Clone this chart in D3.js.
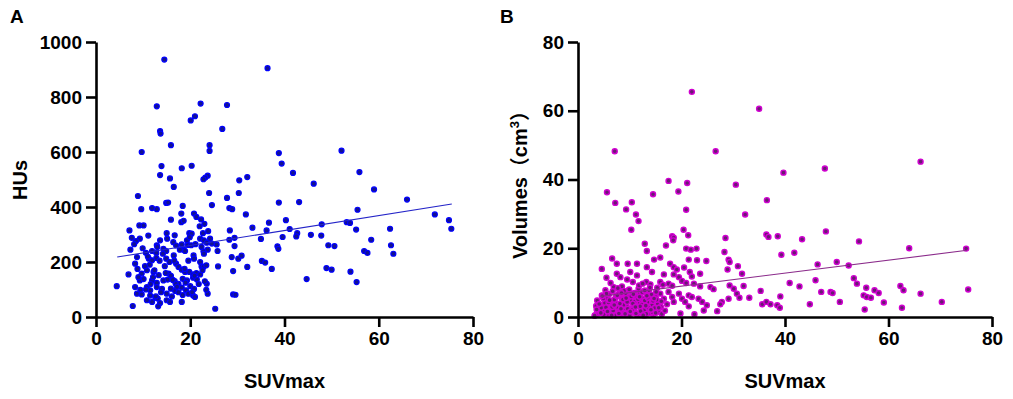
<!DOCTYPE html>
<html><head><meta charset="utf-8">
<script src="https://cdn.jsdelivr.net/npm/d3@7"></script>
<style>
html,body{margin:0;padding:0;background:#fff;}
text{font-family:"Liberation Sans",Arial,"Noto Sans CJK SC",sans-serif;font-weight:bold;}
</style></head><body>
<svg id="c" width="1013" height="399"></svg>
<script>
// Panel A: SUVmax vs HUs
const suvA = [14.5,36.4,12.9,22.2,27.8,20.1,21.0,26.8,13.6,13.7,15.9,24.1,24.1,9.7,38.8,52.1,39.4,13.9,20.3,18.2,13.6,15.7,23.7,23.2,22.8,32.1,41.8,55.9,30.4,16.5,46.2,59.0,24.0,30.3,8.9,27.8,66.0,24.6,14.9,15.3,38.8,43.1,18.4,28.3,28.9,55.5,9.6,11.9,12.9,31.8,20.8,18.1,71.9,21.3,22.3,15.9,40.3,74.9,53.2,53.9,36.7,23.0,9.2,10.1,18.1,33.2,41.1,62.4,75.4,7.1,28.4,36.2,55.2,23.8,19.8,20.3,22.7,15.0,42.7,42.5,45.6,47.9,47.8,39.6,35.0,9.3,7.6,58.4,16.7,29.4,11.1,13.6,22.1,22.9,23.5,28.3,16.4,18.2,8.5,19.5,25.6,29.4,38.5,38.7,49.3,50.6,62.6,56.9,57.6,63.1,25.8,23.7,22.8,7.3,14.3,14.9,18.6,18.9,11.9,12.8,10.6,16.5,20.7,8.7,14.9,12.8,11.2,11.9,28.8,30.2,30.9,20.8,22.1,35.2,35.9,17.0,17.5,8.3,22.4,22.8,23.4,25.9,32.1,48.9,50.0,37.3,6.9,8.8,9.7,10.8,12.2,13.3,15.4,15.9,18.2,18.9,19.8,20.6,21.3,22.1,54.0,29.1,9.3,10.1,11.9,12.9,14.3,15.2,16.7,17.5,18.4,19.3,20.6,21.4,44.7,55.3,4.4,8.3,9.4,10.8,11.5,12.9,14.0,15.9,16.8,18.2,19.1,20.0,20.8,23.5,8.7,9.7,11.5,12.6,15.0,16.1,17.5,18.4,19.6,20.6,21.0,23.7,29.1,29.6,10.8,11.9,13.1,13.6,15.0,15.7,18.2,7.8,13.2,25.3,23.4,22.4,24.6,19.3,20.2,12.9,16.9,
  9.0,10.4,11.6,12.4,13.8,14.6,16.3,17.2,19.0,20.4,21.8,22.6,9.9,11.0,12.1,13.0,14.2,15.6,17.8,19.6,21.1,22.9,10.6,12.7,14.8,16.6,18.8,20.9,23.1,11.4,13.5,17.0,19.9,22.0,8.1,24.2,15.1,18.6];
const husA = [936,905,766,776,771,715,730,684,676,667,625,625,604,600,596,605,558,549,550,541,516,504,514,507,501,509,524,527,497,473,485,464,451,451,440,433,427,407,415,416,416,418,404,396,392,390,392,396,392,373,376,376,373,364,355,354,352,352,345,342,343,339,333,333,345,325,320,321,321,315,315,315,318,312,305,303,305,305,305,293,299,337,296,291,284,285,288,281,297,288,296,279,285,279,270,281,272,264,276,262,264,258,257,248,261,258,261,240,233,230,240,245,239,245,248,240,245,240,240,233,233,224,224,218,212,215,212,206,218,212,223,212,200,204,198,194,182,194,184,182,188,184,182,178,172,175,155,175,158,170,164,152,158,150,172,164,164,155,160,155,165,167,133,138,133,124,133,136,131,121,139,133,143,136,138,127,112,109,99,109,97,109,102,103,95,107,97,112,102,121,85,82,78,70,85,75,90,80,85,78,73,85,82,81,61,55,67,51,61,55,55,40,39,30,99,255,267,279,261,261,121,
  145,185,120,170,90,185,135,110,125,90,120,170,250,220,145,255,230,200,245,205,265,230,100,75,160,205,175,150,130,190,205,260,290,330,265,285,285,350];
const fitA_x = [4.5, 75.5];
const fitA_y = [218, 411];
const xTicksA = [0,20,40,60,80];
const yTicksA = [0,200,400,600,800,1000];

// Panel B: SUVmax vs Volumes (cm3)
const suvB = [22.0,35.0,7.1,26.6,66.2,47.7,39.7,17.5,21.1,30.5,19.4,5.6,14.5,36.5,7.2,10.4,9.3,20.9,11.2,32.3,11.7,10.3,20.4,47.9,18.2,18.5,18.4,36.4,36.8,38.6,28.5,21.3,43.3,54.3,12.9,17.0,13.3,20.9,21.8,22.9,64.0,75.0,28.3,41.8,39.3,6.6,14.7,15.9,21.4,23.0,24.8,29.1,29.3,7.5,9.6,11.4,13.3,50.0,46.3,52.3,30.9,17.8,18.5,19.1,20.5,4.6,7.5,8.2,10.1,11.4,14.3,16.6,18.5,19.5,21.6,22.0,23.6,28.9,31.7,53.3,45.9,53.9,5.5,9.5,10.6,13.2,14.0,15.9,17.5,18.2,20.1,20.9,22.4,23.6,25.6,26.2,40.9,42.8,62.3,62.9,29.3,30.1,32.0,55.7,57.3,58.1,66.2,75.4,35.3,47.0,48.8,49.2,39.1,55.2,55.8,56.6,33.1,30.7,31.2,50.6,59.1,70.3,35.6,36.4,37.2,38.5,39.0,44.8,62.6,55.4,26.9,19.8,22.5,24.9,24.3,27.8,27.5,29.1,23.3,24.0,21.4,22.0,19.5,20.1,20.7,21.4,17.5,18.2,18.5,17.2,15.9,16.6,15.3,15.9,15.6,3.7,4.3,5.0,3.9,3.3,5.6,6.2,6.9,5.9,7.2,7.9,8.5,9.0,8.2,9.1,8.3,9.8,10.4,10.2,10.8,10.0,11.1,11.7,12.0,12.6,11.9,12.7,12.2,13.0,13.7,14.1,13.7,14.3,13.8,14.6,5.3,6.9,8.5,4.6,15.3,15.0,
  3.5,4.0,4.8,5.2,5.8,6.4,6.8,7.4,7.8,8.6,9.4,9.8,10.5,11.0,11.5,12.3,12.8,13.4,14.0,14.8,15.4,16.2,4.2,5.0,5.9,6.6,7.3,8.0,8.8,9.6,10.3,11.2,12.0,12.9,13.6,14.4,15.2,16.0,16.8,6.0,7.0,8.1,9.2,10.0,11.3,12.4,13.2,14.2,15.1,3.8,4.5,9.9,10.9,11.8,6.3,7.7,8.9,12.5,13.9,16.4,
  3.2,3.6,4.1,4.4,4.9,5.4,5.7,6.1,6.5,7.0,7.5,7.9,8.3,8.7,9.1,9.5,10.1,10.6,11.1,11.6,12.1,12.6,13.1,13.5,14.1,14.5,15.0,15.6,16.1,5.5,6.7,7.6,8.4,9.3,10.7,11.9,13.3,14.7,4.7,12.9];
const volB = [65.5,60.6,48.2,48.2,45.2,43.2,42.0,39.6,39.0,38.5,36.5,36.3,35.7,34.0,33.2,33.4,31.3,31.2,29.8,29.8,27.9,25.4,25.4,24.9,23.5,23.1,22.3,24.0,23.3,23.5,23.0,23.8,22.6,22.0,21.3,20.8,19.2,19.9,19.6,19.9,20.0,19.9,18.9,18.7,18.1,17.0,16.7,17.3,16.7,16.5,16.3,16.7,16.0,15.5,15.5,15.5,14.5,16.0,15.3,15.0,14.8,15.5,14.5,13.8,14.4,14.0,12.6,11.6,13.1,12.1,13.1,12.4,12.4,11.6,13.1,11.8,12.6,13.8,12.6,11.3,10.7,9.7,11.4,10.9,10.2,10.2,9.5,10.2,9.7,9.1,10.5,9.9,9.7,8.9,8.7,8.1,9.9,8.9,9.0,7.8,9.2,8.2,9.0,8.5,7.8,7.0,6.8,8.0,7.6,7.3,7.3,7.0,6.0,6.3,5.8,5.6,5.6,6.8,5.6,4.4,4.2,4.4,3.7,4.4,3.7,3.4,2.7,3.7,2.7,2.2,1.7,1.0,0.8,3.4,1.9,4.4,3.7,5.3,5.3,4.4,6.3,5.8,6.8,5.3,4.4,3.1,7.3,5.8,4.4,3.7,6.8,5.3,4.4,2.9,1.5,4.8,3.4,2.4,1.5,0.5,5.3,3.9,2.4,1.2,0.5,6.8,5.3,4.4,3.4,1.9,0.8,7.8,6.3,4.8,3.7,2.4,1.2,8.2,6.8,5.3,4.1,2.9,1.5,0.5,7.8,6.0,4.7,3.4,1.9,0.8,7.8,8.7,8.9,6.3,8.5,5.8,
  3.2,1.0,2.0,4.1,0.9,3.0,1.8,4.0,2.6,1.3,3.2,5.9,2.2,4.6,0.7,3.6,2.0,4.3,1.1,2.6,3.9,0.9,2.3,0.8,4.2,2.9,5.7,1.7,3.5,2.4,6.0,1.0,3.1,4.8,2.7,1.4,5.0,3.0,1.8,6.6,5.0,3.9,6.9,0.6,5.8,7.2,0.9,6.5,7.3,1.9,2.7,8.0,7.0,9.2,9.9,8.4,7.6,9.7,8.6,9.4,
  0.4,2.2,3.8,1.2,5.4,2.8,1.6,4.9,0.5,3.5,6.1,1.0,2.4,5.1,0.9,4.4,1.6,3.9,2.9,5.2,1.7,0.5,3.3,5.6,2.1,4.7,1.2,2.7,4.6,6.8,7.5,6.3,7.0,5.5,6.6,5.9,6.2,5.4,6.1,7.7];
const fitB_x = [4.3, 75.2];
const fitB_y = [6.0, 19.4];
const xTicksB = [0,20,40,60,80];
const yTicksB = [0,20,40,60,80];

const svg = d3.select("#c");

function panel(opts){
  const g = svg.append("g");
  const x = d3.scaleLinear().domain([0,80]).range([opts.x0, opts.x1]);
  const y = d3.scaleLinear().domain([0, opts.ymax]).range([317, 42]);
  const pts = opts.xs.map((v,i)=>({x:v,y:opts.ys[i]}));
  g.append("g").selectAll("circle").data(pts).join("circle")
    .attr("cx", d=>x(d.x)).attr("cy", d=>y(d.y)).attr("r", 2.5)
    .attr("fill", opts.fill).attr("stroke", opts.stroke).attr("stroke-width", opts.sw);
  const fit = opts.fx.map((v,i)=>({x:v,y:opts.fy[i]}));
  g.append("path").datum(fit)
    .attr("d", d3.line().x(d=>x(d.x)).y(d=>y(d.y)))
    .attr("stroke", opts.line).attr("stroke-width", 1.1).attr("fill","none");
  const ax = g.append("g").attr("transform","translate(0,317)")
    .call(d3.axisBottom(x).tickValues(opts.xt).tickFormat(d3.format("d")).tickSize(10).tickSizeOuter(0).tickPadding(5));
  const ay = g.append("g").attr("transform",`translate(${opts.x0},0)`)
    .call(d3.axisLeft(y).tickValues(opts.yt).tickFormat(d3.format("d")).tickSize(10).tickSizeOuter(0).tickPadding(4));
  [ax,ay].forEach(a=>{
    a.selectAll("path,line").attr("stroke","#000").attr("stroke-width",2.6);
    a.selectAll("text").attr("font-size",19).attr("fill","#000")
      .attr("font-family",'"Liberation Sans",Arial,sans-serif').attr("font-weight","bold");
  });
  g.append("text").attr("x",(opts.x0+opts.x1)/2).attr("y",388).attr("text-anchor","middle")
    .attr("font-size",20).text("SUVmax");
  g.append("text").attr("x",opts.lx).attr("y",23).attr("font-size",19).text(opts.label);
  return {g,x,y};
}

const A = panel({x0:96,x1:473,ymax:1000,xs:suvA,ys:husA,fx:fitA_x,fy:fitA_y,xt:xTicksA,yt:yTicksA,
  fill:"#121290",stroke:"#0000ff",sw:1.2,line:"#2424c8",label:"A",lx:10});
A.g.append("text").attr("transform","translate(27,180) rotate(-90)").attr("text-anchor","middle")
  .attr("font-size",20).text("HUs");

const B = panel({x0:578,x1:992,ymax:80,xs:suvB,ys:volB,fx:fitB_x,fy:fitB_y,xt:xTicksB,yt:yTicksB,
  fill:"#6a1a72",stroke:"#d000d0",sw:1.4,line:"#8a2a8a",label:"B",lx:500});
const vt = B.g.append("text").attr("transform","translate(527,180) rotate(-90)").attr("text-anchor","middle")
  .attr("font-size",20);
vt.append("tspan").text("Volumes（cm");
vt.append("tspan").attr("font-size",13).attr("dy",-8).text("3");
vt.append("tspan").attr("dy",8).text("）");
</script>
</body></html>
